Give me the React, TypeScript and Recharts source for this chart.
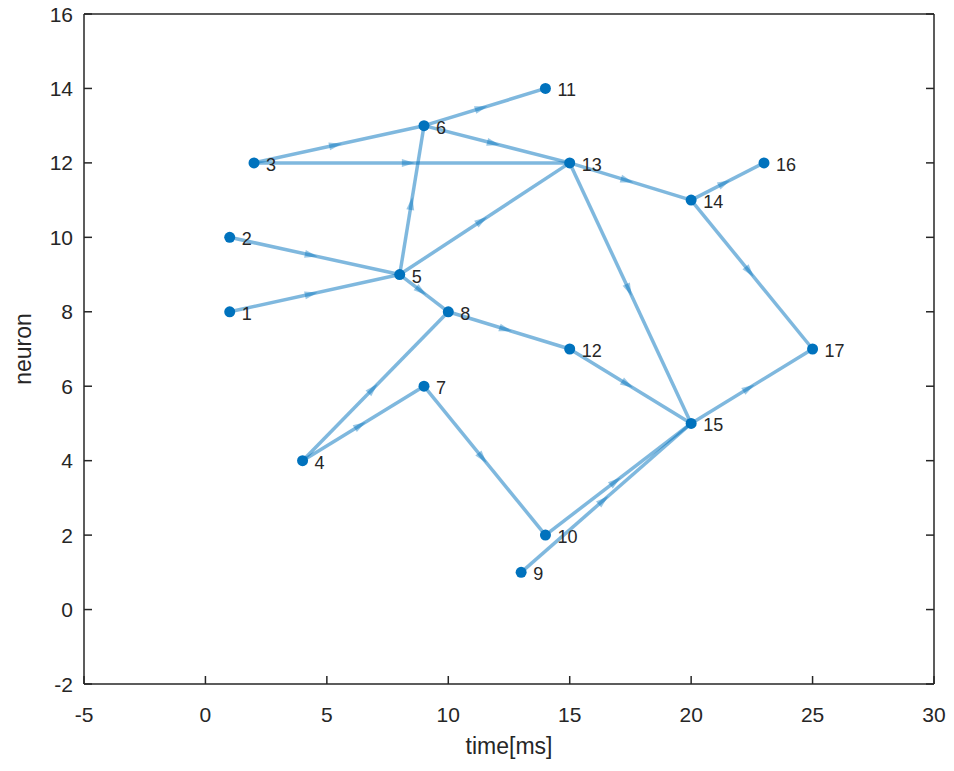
import React from 'react';
import { ScatterChart, Scatter, XAxis, YAxis } from 'recharts';

// node positions (time in ms, neuron index)
const nodeLabels = ['1', '2', '3', '4', '5', '6', '7', '8', '9', '10', '11', '12', '13', '14', '15', '16', '17'];
const nodeTime = [1, 1, 2, 4, 8, 9, 9, 10, 13, 14, 14, 15, 15, 20, 20, 23, 25];
const nodeNeuron = [8, 10, 12, 4, 9, 13, 6, 8, 1, 2, 14, 7, 12, 11, 5, 12, 7];

// directed edges, 1-based node numbers
const edgeFrom = [1, 2, 3, 3, 4, 4, 5, 5, 5, 6, 6, 7, 8, 9, 10, 12, 13, 13, 14, 14, 15];
const edgeTo = [5, 5, 6, 13, 7, 8, 6, 8, 13, 11, 13, 10, 12, 15, 15, 15, 14, 15, 16, 17, 17];

const xTicks = [-5, 0, 5, 10, 15, 20, 25, 30];
const yTicks = [-2, 0, 2, 4, 6, 8, 10, 12, 14, 16];

const NODE = '#0072BD';
const AXIS = '#262626';
const FONT = '"Liberation Sans", Arial, sans-serif';

const nodes = nodeLabels.map((id, i) => ({ id, x: nodeTime[i], y: nodeNeuron[i] }));
const edges = edgeFrom.map((f, i) => [nodes[f - 1], nodes[edgeTo[i] - 1]]);

const renderEdge = (props: any) => {
  const pts = props.points;
  if (!pts || pts.length < 2) return <g />;
  const [a, b] = pts;
  const mx = (a.x + b.x) / 2;
  const my = (a.y + b.y) / 2;
  const ang = (Math.atan2(b.y - a.y, b.x - a.x) * 180) / Math.PI;
  return (
    <g>
      <line x1={a.x} y1={a.y} x2={b.x} y2={b.y} stroke={NODE} strokeOpacity={0.5} strokeWidth={3.5} />
      <path
        d="M 3 0 L -10 -4 L -10 4 Z"
        transform={`translate(${mx},${my}) rotate(${ang})`}
        fill={NODE}
        fillOpacity={0.4}
      />
    </g>
  );
};

const renderNode = (props: any) => {
  const { cx, cy, payload } = props;
  return (
    <g>
      <circle cx={cx} cy={cy} r={5.5} fill={NODE} />
      <text x={cx + 12} y={cy + 2} dominantBaseline="central" fontSize={18} fontFamily={FONT} fill={AXIS}>
        {payload.id}
      </text>
    </g>
  );
};

const BottomTick = ({ x, y, payload }: any) => (
  <g>
    <line x1={x} y1={y} x2={x} y2={y - 8} stroke={AXIS} strokeWidth={1.5} />
    <text x={x} y={y + 30} textAnchor="middle" dominantBaseline="central" fontSize={21} fontFamily={FONT} fill={AXIS}>
      {payload.value}
    </text>
  </g>
);

const LeftTick = ({ x, y, payload }: any) => (
  <g>
    <line x1={x} y1={y} x2={x + 8} y2={y} stroke={AXIS} strokeWidth={1.5} />
    <text x={x - 11} y={y} textAnchor="end" dominantBaseline="central" fontSize={21} fontFamily={FONT} fill={AXIS}>
      {payload.value}
    </text>
  </g>
);

const TopTick = ({ x, y }: any) => <line x1={x} y1={y} x2={x} y2={y + 8} stroke={AXIS} strokeWidth={1.5} />;
const RightTick = ({ x, y }: any) => <line x1={x} y1={y} x2={x - 8} y2={y} stroke={AXIS} strokeWidth={1.5} />;

export default function App() {
  return (
    <div style={{ position: 'absolute', left: 0, top: 0, background: '#fff' }}>
      <ScatterChart width={954} height={771} margin={{ top: 0, right: 0, bottom: 0, left: 0 }}>
        <XAxis
          type="number"
          dataKey="x"
          domain={[-5, 30]}
          ticks={xTicks}
          allowDataOverflow
          height={87}
          tickSize={0}
          tickMargin={0}
          tickLine={false}
          tick={<BottomTick />}
          axisLine={{ stroke: AXIS, strokeWidth: 1.5 }}
          label={{ value: 'time[ms]', position: 'insideBottom', offset: 17, fontSize: 23, fontFamily: FONT, fill: AXIS }}
        />
        <XAxis
          xAxisId="top"
          orientation="top"
          type="number"
          domain={[-5, 30]}
          ticks={xTicks}
          allowDataOverflow
          height={14}
          tickSize={0}
          tickMargin={0}
          tickLine={false}
          tick={<TopTick />}
          axisLine={{ stroke: AXIS, strokeWidth: 1.5 }}
        />
        <YAxis
          type="number"
          dataKey="y"
          domain={[-2, 16]}
          ticks={yTicks}
          allowDataOverflow
          width={84}
          tickSize={0}
          tickMargin={0}
          tickLine={false}
          tick={<LeftTick />}
          axisLine={{ stroke: AXIS, strokeWidth: 1.5 }}
          label={{
            value: 'neuron',
            angle: -90,
            position: 'insideLeft',
            offset: 23,
            fontSize: 23,
            fontFamily: FONT,
            fill: AXIS,
            style: { textAnchor: 'middle' },
          }}
        />
        <YAxis
          yAxisId="right"
          orientation="right"
          type="number"
          domain={[-2, 16]}
          ticks={yTicks}
          allowDataOverflow
          width={20}
          tickSize={0}
          tickMargin={0}
          tickLine={false}
          tick={<RightTick />}
          axisLine={{ stroke: AXIS, strokeWidth: 1.5 }}
        />
        {edges.map((e, i) => (
          <Scatter
            key={`edge-${i}`}
            data={e}
            line={renderEdge}
            shape={() => <g />}
            isAnimationActive={false}
          />
        ))}
        <Scatter data={nodes} shape={renderNode} isAnimationActive={false} />
      </ScatterChart>
    </div>
  );
}
